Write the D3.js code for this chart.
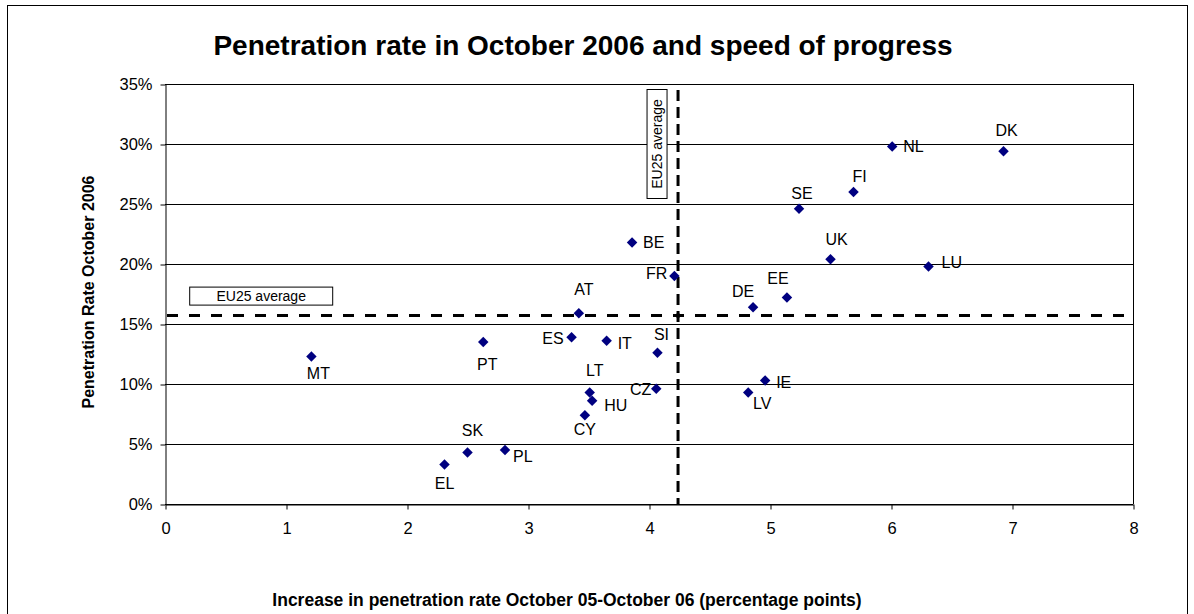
<html>
<script src="https://d3js.org/d3.v7.min.js"></script>
<style>
  body { margin: 0; background: #fff; }
  text { font-family: Arial, "Liberation Sans", sans-serif; }
</style>
<body>
<svg id="chart" width="1194" height="614"></svg>
<script>
// Countries, increase Oct05-Oct06 (pp) and penetration rate Oct 2006
var countries = ["DK","NL","FI","SE","BE","UK","LU","FR","EE","DE","AT","ES","IT","SI","MT","PT","LT","HU","CY","CZ","IE","LV","SK","PL","EL"];
var increase  = [6.93, 6.01, 5.69, 5.24, 3.86, 5.50, 6.31, 4.21, 5.14, 4.86, 3.42, 3.36, 3.65, 4.07, 1.21, 2.63, 3.51, 3.53, 3.47, 4.06, 4.96, 4.82, 2.50, 2.81, 2.31];
var penetration = [0.294, 0.298, 0.260, 0.246, 0.218, 0.204, 0.198, 0.190, 0.172, 0.164, 0.159, 0.139, 0.136, 0.126, 0.123, 0.135, 0.093, 0.086, 0.074, 0.096, 0.103, 0.093, 0.043, 0.045, 0.033];

// EU25 averages
var avgIncrease = 4.24;
var avgPenetration = 0.157;

var xTicks = [0,1,2,3,4,5,6,7,8];
var yTicks = [0,0.05,0.10,0.15,0.20,0.25,0.30,0.35];

// label placement next to each marker: [dx, dy, anchor]
var labelPlace = {
  DK:[3,-21,"middle"], NL:[11,0,"start"], FI:[6,-16,"middle"], SE:[3,-16,"middle"],
  BE:[11,0,"start"], UK:[6,-20,"middle"], LU:[13,-4,"start"], FR:[-7,-3,"end"],
  EE:[-9,-19,"middle"], DE:[-10,-16,"middle"], AT:[5,-24,"middle"], ES:[-8,1,"end"],
  IT:[11,2,"start"], SI:[4,-19,"middle"], MT:[7,17,"middle"], PT:[4,22,"middle"],
  LT:[5,-22,"middle"], HU:[12,4,"start"], CY:[0,14,"middle"], CZ:[-5,0,"end"],
  IE:[11,2,"start"], LV:[14,11,"middle"], SK:[5,-22,"middle"], PL:[8,6,"start"],
  EL:[0,19,"middle"]
};

var svg = d3.select("#chart");
var plotLeft = 165, plotRight = 1133, plotTop = 84, plotBottom = 504;

var x = d3.scaleLinear().domain([0, 8]).range([plotLeft, plotRight]);
var y = d3.scaleLinear().domain([0, 0.35]).range([plotBottom, plotTop]);

// outer chart border
svg.append("rect")
  .attr("x", 7.5).attr("y", 5.5).attr("width", 1180).attr("height", 640)
  .attr("fill", "none").attr("stroke", "#000").attr("stroke-width", 1);

// title
svg.append("text")
  .attr("x", 583).attr("y", 55)
  .attr("text-anchor", "middle")
  .style("font-size", "28px").style("font-weight", "bold")
  .text("Penetration rate in October 2006 and speed of progress");

// gridlines
svg.append("g")
  .selectAll("line")
  .data(yTicks)
  .enter()
  .append("line")
  .attr("x1", plotLeft).attr("x2", plotRight)
  .attr("y1", function(d) { return Math.round(y(d)) + 0.5; })
  .attr("y2", function(d) { return Math.round(y(d)) + 0.5; })
  .attr("stroke", "#000").attr("stroke-width", 1);

// right frame
svg.append("line")
  .attr("x1", plotRight + 0.5).attr("x2", plotRight + 0.5)
  .attr("y1", plotTop).attr("y2", plotBottom)
  .attr("stroke", "#000");

// y axis
svg.append("g")
  .attr("transform", "translate(" + (plotLeft + 0.5) + ",0.5)")
  .call(d3.axisLeft(y).tickValues(yTicks).tickFormat(d3.format(".0%")).tickSize(5).tickSizeOuter(0).tickPadding(8));

// x axis
svg.append("g")
  .attr("transform", "translate(0.5," + (plotBottom + 0.5) + ")")
  .call(d3.axisBottom(x).tickValues(xTicks).tickFormat(d3.format("d")).tickSize(5).tickSizeOuter(0).tickPadding(13));

svg.selectAll(".tick text")
  .style("font-size", "16.5px").attr("fill", "#000")
  .style("font-family", "Arial, 'Liberation Sans', sans-serif");
svg.selectAll(".domain, .tick line").attr("stroke", "#000");

// axis titles
svg.append("text")
  .attr("transform", "translate(94,292) rotate(-90)")
  .attr("text-anchor", "middle")
  .style("font-size", "16px").style("font-weight", "bold")
  .text("Penetration Rate October 2006");

svg.append("text")
  .attr("x", 567).attr("y", 606)
  .attr("text-anchor", "middle")
  .style("font-size", "17.5px").style("font-weight", "bold")
  .text("Increase in penetration rate October 05-October 06 (percentage points)");

// EU25 average lines
svg.append("line")
  .attr("x1", x(0)).attr("x2", x(8))
  .attr("y1", y(avgPenetration)).attr("y2", y(avgPenetration))
  .attr("stroke", "#000").attr("stroke-width", 3)
  .attr("stroke-dasharray", "11,11")
  .attr("stroke-dashoffset", -2);

svg.append("line")
  .attr("x1", x(avgIncrease)).attr("x2", x(avgIncrease))
  .attr("y1", y(0.345)).attr("y2", y(0))
  .attr("stroke", "#000").attr("stroke-width", 3)
  .attr("stroke-dasharray", "11,6");

svg.append("path")
  .attr("d", d3.symbol().type(d3.symbolDiamond2).size(30)())
  .attr("transform", "translate(" + x(avgIncrease) + "," + y(avgPenetration) + ")")
  .attr("fill", "#000");

// average label boxes
var hb = svg.append("g")
  .attr("transform", "translate(" + (x(0.2) + 0.5) + "," + (y(avgPenetration) - 28.5) + ")");
hb.append("rect").attr("width", 143).attr("height", 18)
  .attr("fill", "#fff").attr("stroke", "#000");
hb.append("text").attr("x", 71.5).attr("y", 14)
  .attr("text-anchor", "middle").style("font-size", "14px")
  .text("EU25 average");

var vb = svg.append("g")
  .attr("transform", "translate(" + (x(avgIncrease) - 31) + "," + (y(0.35) + 5.5) + ")");
vb.append("rect").attr("width", 20).attr("height", 109)
  .attr("fill", "#fff").attr("stroke", "#000");
vb.append("text")
  .attr("transform", "translate(15,54.5) rotate(-90)")
  .attr("text-anchor", "middle").style("font-size", "14px")
  .text("EU25 average");

// country markers
var pts = svg.append("g")
  .selectAll("g")
  .data(countries)
  .enter()
  .append("g")
  .attr("transform", function(d, i) { return "translate(" + x(increase[i]) + "," + y(penetration[i]) + ")"; });

pts.append("path")
  .attr("d", d3.symbol().type(d3.symbolDiamond2).size(70)())
  .attr("fill", "#000080");

pts.append("text")
  .attr("x", function(d) { return labelPlace[d][0]; })
  .attr("y", function(d) { return labelPlace[d][1]; })
  .attr("dy", "0.36em")
  .attr("text-anchor", function(d) { return labelPlace[d][2]; })
  .style("font-size", "16px")
  .text(function(d) { return d; });
</script>
</body>
</html>
